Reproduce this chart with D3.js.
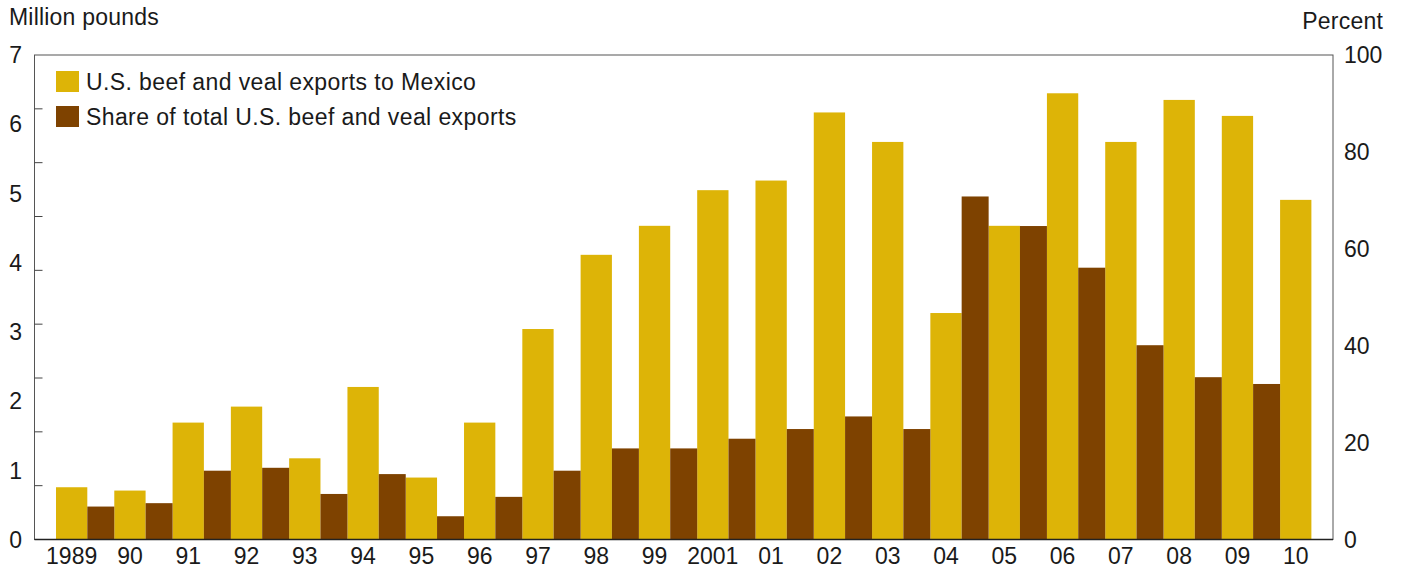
<!DOCTYPE html>
<html>
<head>
<meta charset="utf-8">
<script src="https://cdn.jsdelivr.net/npm/d3@7"></script>
<style>
    body { margin: 0; background: #fff; }
    text { font-family: "Liberation Sans", Arial, Helvetica, sans-serif; fill: #1a1a1a; }
</style>
</head>
<body>
<div id="chart"></div>
<script>
const years = ["1989", "90", "91", "92", "93", "94", "95", "96", "97", "98", "99", "2001",
               "01", "02", "03", "04", "05", "06", "07", "08", "09", "10"];

// yellow bars, read against left axis (0-7)
const exportsMexico = [0.755, 0.707, 1.689, 1.920, 1.173, 2.204, 0.895, 1.689, 3.041, 4.113, 4.532,
                       5.047, 5.186, 6.170, 5.744, 3.272, 4.532, 6.447, 5.744, 6.351, 6.120, 4.907];

// brown bars, read against right axis (percent)
const shareOfTotal = [6.8, 7.5, 14.2, 14.8, 9.4, 13.5, 4.8, 8.8, 14.2, 18.8, 18.8,
                      20.8, 22.8, 25.4, 22.8, 70.8, 64.7, 56.1, 40.1, 33.5, 32.1, null];

const leftTicks = [0, 1, 2, 3, 4, 5, 6, 7];
const rightTicks = [0, 20, 40, 60, 80, 100];

const legendItems = [
    { label: "U.S. beef and veal exports to Mexico", color: "#ddb407" },
    { label: "Share of total U.S. beef and veal exports", color: "#7e4200" }
];

const width = 1402, height = 571;
const plot = { left: 34.5, right: 1333, top: 55, bottom: 539.5 };

const svg = d3.select("#chart").append("svg")
    .attr("width", width)
    .attr("height", height);

const x = d3.scaleBand()
    .domain(years)
    .range([56, 56 + 22 * 58.29])
    .padding(0);

const yLeft = d3.scaleLinear().domain([0, 7]).range([plot.bottom, plot.top]);
const yRight = d3.scaleLinear().domain([0, 100]).range([plot.bottom, plot.top]);
const yMinor = d3.scaleLinear().domain([0, 9]).range([plot.bottom, plot.top]);

const bw = x.bandwidth();
const yellowW = bw * 0.537;

const rows = years.map((yr, i) => ({ year: yr, pounds: exportsMexico[i], share: shareOfTotal[i] }));

svg.append("g").selectAll("rect")
    .data(rows)
    .enter().append("rect")
    .attr("x", d => x(d.year))
    .attr("y", d => yLeft(d.pounds))
    .attr("width", yellowW)
    .attr("height", d => plot.bottom - yLeft(d.pounds))
    .attr("fill", legendItems[0].color);

svg.append("g").selectAll("rect")
    .data(rows.filter(d => d.share != null))
    .enter().append("rect")
    .attr("x", d => x(d.year) + yellowW)
    .attr("y", d => yRight(d.share))
    .attr("width", bw - yellowW)
    .attr("height", d => plot.bottom - yRight(d.share))
    .attr("fill", legendItems[1].color);

// frame
svg.append("rect")
    .attr("x", plot.left)
    .attr("y", plot.top)
    .attr("width", plot.right - plot.left)
    .attr("height", plot.bottom - plot.top)
    .attr("fill", "none")
    .attr("stroke", "#555")
    .attr("stroke-width", 1);

svg.append("line")
    .attr("x1", plot.left).attr("x2", plot.right)
    .attr("y1", plot.bottom).attr("y2", plot.bottom)
    .attr("stroke", "#222")
    .attr("stroke-width", 1.5);

// left inner tick marks (9 intervals)
svg.append("g").selectAll("line")
    .data(d3.range(1, 9))
    .enter().append("line")
    .attr("x1", plot.left).attr("x2", plot.left + 8)
    .attr("y1", d => yMinor(d)).attr("y2", d => yMinor(d))
    .attr("stroke", "#444")
    .attr("stroke-width", 1);

const fontSize = "23px";

svg.append("g").selectAll("text")
    .data(leftTicks)
    .enter().append("text")
    .attr("x", 22)
    .attr("y", d => yLeft(d))
    .attr("dy", "0.36em")
    .attr("text-anchor", "end")
    .style("font-size", fontSize)
    .text(d => d);

svg.append("g").selectAll("text")
    .data(rightTicks)
    .enter().append("text")
    .attr("x", 1344)
    .attr("y", d => yRight(d))
    .attr("dy", "0.36em")
    .attr("text-anchor", "start")
    .style("font-size", fontSize)
    .text(d => d);

svg.append("g").selectAll("text")
    .data(years)
    .enter().append("text")
    .attr("x", d => x(d) + yellowW / 2)
    .attr("y", 564)
    .attr("text-anchor", "middle")
    .style("font-size", fontSize)
    .text(d => d);

svg.append("text")
    .attr("x", 9)
    .attr("y", 25)
    .style("font-size", fontSize)
    .style("letter-spacing", "0.2px")
    .text("Million pounds");

svg.append("text")
    .attr("x", 1383)
    .attr("y", 29)
    .attr("text-anchor", "end")
    .style("font-size", fontSize)
    .style("letter-spacing", "0.2px")
    .text("Percent");

const legend = svg.append("g");
legendItems.forEach((item, i) => {
    legend.append("rect")
        .attr("x", 56)
        .attr("y", 71 + i * 35)
        .attr("width", 23)
        .attr("height", 21)
        .attr("fill", item.color);
    legend.append("text")
        .attr("x", 86)
        .attr("y", 90 + i * 35)
        .style("font-size", fontSize)
        .style("letter-spacing", "0.4px")
        .text(item.label);
});
</script>
</body>
</html>
